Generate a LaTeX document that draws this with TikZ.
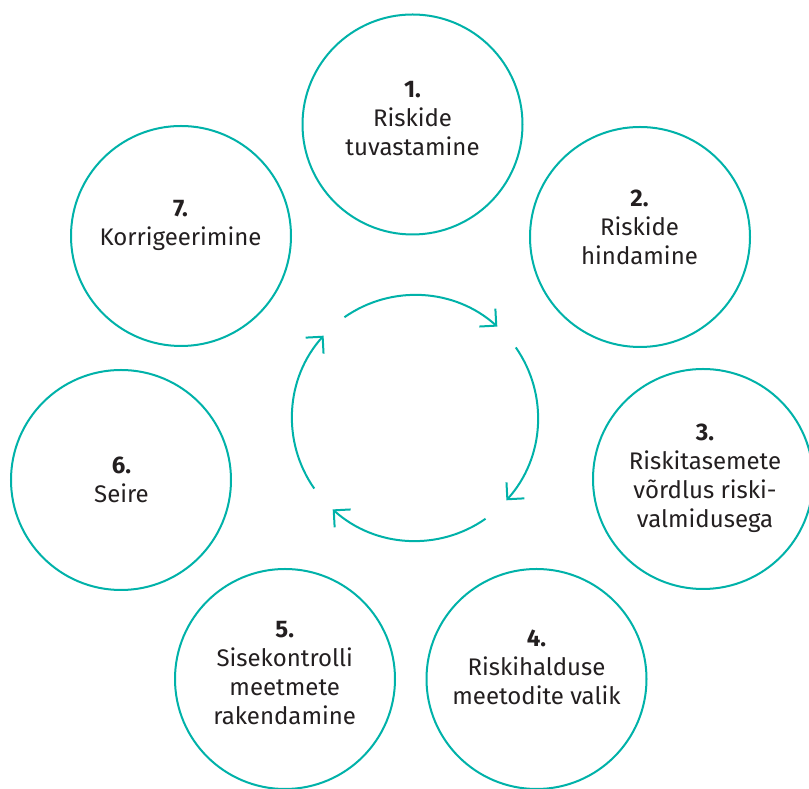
\documentclass[tikz,border=0pt]{standalone}
\usepackage{fontspec}
\setmainfont{Fira Sans}
\usetikzlibrary{arrows.meta}
\definecolor{teal1}{RGB}{0,178,169}
\definecolor{txt}{RGB}{35,31,32}
\begin{document}
\begin{tikzpicture}[x=1pt,y=1pt,
  stepcircle/.style={circle,draw=teal1,line width=2pt,minimum size=220pt,inner sep=0pt},
  lbl/.style={align=center,inner sep=0pt,anchor=base,text=txt,font=\fontsize{24}{29.3}\selectfont},
  cyc/.style={draw=teal1,line width=2pt,-{Straight Barb[length=12pt,width=24pt,line width=2pt]}}]
\useasboundingbox (0,0) rectangle (809,789);
\fill[white] (0,0) rectangle (809,789);
% circles
\node[stepcircle] (c1) at (412.5,664.5) {};
\node[stepcircle] (c2) at (640,552) {};
\node[stepcircle] (c3) at (703,310) {};
\node[stepcircle] (c4) at (536.5,110) {};
\node[stepcircle] (c5) at (285,110) {};
\node[stepcircle] (c6) at (121,309) {};
\node[stepcircle] (c7) at (181,553) {};
% labels (anchored at the baseline of the last line)
\node[lbl] (t1) at (412.5,633) {\textbf{1.}\\Riskide\\tuvastamine};
\node[lbl] (t2) at (639.5,524) {\textbf{2.}\\Riskide\\hindamine};
\node[lbl] (t3) at (705,261) {\textbf{3.}\\Riskitasemete\\võrdlus riski-\\valmidusega};
\node[lbl] (t4) at (536.5,84) {\textbf{4.}\\Riskihalduse\\meetodite valik};
\node[lbl] (t5) at (284.7,64) {\textbf{5.}\\Sisekontrolli\\meetmete\\rakendamine};
\node[lbl] (t6) at (121.5,286) {\textbf{6.}\\Seire};
\node[lbl] (t7) at (180.5,543) {\textbf{7.}\\Korrigeerimine};
% inner cycle
\coordinate (o) at (415,371);
\draw[cyc] ([shift={(125:123)}]o) arc[start angle=125,end angle=48,radius=123];
\draw[cyc] ([shift={(35:123)}]o) arc[start angle=35,end angle=-42,radius=123];
\draw[cyc] ([shift={(-55:123)}]o) arc[start angle=-55,end angle=-132,radius=123];
\draw[cyc] ([shift={(-145:123)}]o) arc[start angle=-145,end angle=-222,radius=123];
\end{tikzpicture}
\end{document}
